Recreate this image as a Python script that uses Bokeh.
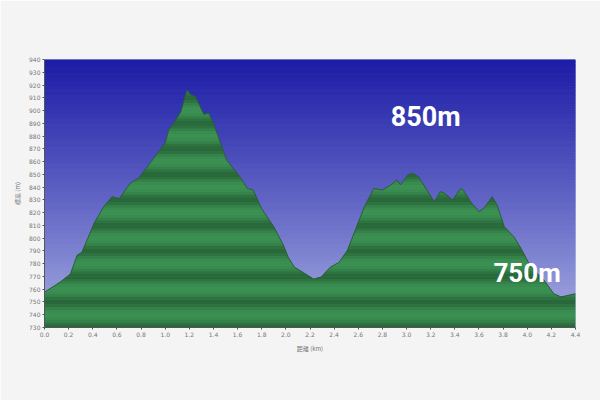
import numpy as np
from bokeh.plotting import figure
from bokeh.models import FixedTicker, NumeralTickFormatter, Range1d, Label
from bokeh.embed import file_html
from bokeh.resources import INLINE

# distance (km) and elevation (m)
dist = [0.0, 0.13, 0.215, 0.27, 0.31, 0.41, 0.49, 0.56, 0.62, 0.71, 0.78, 0.905, 1.0, 1.03, 1.07,
        1.13, 1.18, 1.21, 1.25, 1.32, 1.36, 1.40, 1.51, 1.62, 1.68, 1.73, 1.80, 1.90, 1.98, 2.02,
        2.07, 2.12, 2.23, 2.29, 2.37, 2.44, 2.51, 2.58, 2.65, 2.73, 2.80, 2.87, 2.92, 2.95, 3.01,
        3.05, 3.10, 3.16, 3.23, 3.28, 3.32, 3.38, 3.45, 3.47, 3.53, 3.60, 3.64, 3.71, 3.75, 3.81,
        3.89, 3.95, 4.03, 4.14, 4.22, 4.28, 4.33, 4.40]
elev = [757.7, 765.6, 772, 786.6, 789, 811.5, 824.6, 832.5, 831, 843, 847, 862.6, 874.5, 885, 890,
        899, 916, 912.5, 911, 897, 898, 890, 861, 848, 839, 837.7, 823, 809, 794.5, 785,
        777.4, 774.5, 768, 769.5, 777.4, 781, 790.5, 807.5, 824.6, 839, 837.7, 841.7, 845.6, 841.7, 849.5,
        851, 848, 839, 828.6, 836.5, 835, 830, 839, 837.7, 828.6, 820.8, 823.3, 832.5, 826, 809,
        801, 791.8, 777.4, 767, 756.5, 754, 755, 756.5]

x_ticks = [0.0, 0.2, 0.4, 0.6, 0.8, 1.0, 1.2, 1.4, 1.6, 1.8, 2.0, 2.2, 2.4, 2.6, 2.8, 3.0, 3.2,
           3.4, 3.6, 3.8, 4.0, 4.2, 4.4]
y_ticks = list(range(730, 941, 10))
annotations = [("850m", 2.87, 895, "27px"), ("750m", 3.72, 773, "26px")]

X_MIN, X_MAX, Y_MIN, Y_MAX = 0.0, 4.4, 730, 940

p = figure(width=600, height=400, output_backend="svg", toolbar_location=None,
           x_range=Range1d(X_MIN, X_MAX), y_range=Range1d(Y_MIN, Y_MAX),
           min_border_left=44, min_border_right=25, min_border_top=59, min_border_bottom=73,
           background_fill_color="#f4f4f4", border_fill_color="#f4f4f4")
p.outline_line_color = None
p.grid.visible = False


def mix(c1, c2, t):
    r = [int(round(a + (b - a) * t)) for a, b in zip(c1, c2)]
    return "#%02x%02x%02x" % tuple(r)


def band_top(x, y, lo, hi):
    """Exact clip of the piecewise-linear profile into [lo, hi] (adds crossing vertices)."""
    rx, ry = [x[0]], [y[0]]
    for i in range(len(x) - 1):
        x0, y0, x1, y1 = x[i], y[i], x[i + 1], y[i + 1]
        cuts = []
        for L in (lo, hi):
            if (y0 - L) * (y1 - L) < 0:
                t = (L - y0) / (y1 - y0)
                cuts.append((t, x0 + t * (x1 - x0), L))
        for _, cx, cy in sorted(cuts):
            rx.append(cx)
            ry.append(cy)
        rx.append(x1)
        ry.append(y1)
    return np.array(rx), np.clip(np.array(ry), lo, hi)


# sky gradient
step = 2
bottoms = np.arange(Y_MIN, Y_MAX, step)
sky_top = (0x1c, 0x1c, 0xa6)
sky_bot = (0xab, 0xb2, 0xe4)
sky_cols = [mix(sky_bot, sky_top, ((b + step / 2 - Y_MIN) / (Y_MAX - Y_MIN)) ** 0.9) for b in bottoms]
p.quad(left=X_MIN, right=X_MAX, bottom=bottoms, top=bottoms + step,
       fill_color=sky_cols, line_color=sky_cols, line_width=1)

# base green area
xs = np.array(dist, dtype=float)
ys = np.array(elev, dtype=float)
p.varea(x=xs, y1=Y_MIN, y2=ys, fill_color="#36874c")

# striped green bands
light = (0x3b, 0x90, 0x52)
dark = (0x28, 0x66, 0x39)
for b in np.arange(Y_MIN, max(elev), step):
    yc = b + step / 2
    f = ((1 + np.cos(2 * np.pi * (yc - 750) / 20)) / 2) ** 1.5
    col = mix(light, dark, f)
    bx, by = band_top(xs, ys, b, b + step)
    p.varea(x=bx, y1=b, y2=by, fill_color=col)

p.line(xs, ys, line_color="#2a5a36", line_width=0.9)

for txt, ax, ay, fs in annotations:
    p.add_layout(Label(x=ax, y=ay, text=txt, text_color="white", text_font="Roboto",
                       text_font_style="bold", text_font_size=fs, text_baseline="middle"))

p.xaxis.ticker = FixedTicker(ticks=x_ticks)
p.yaxis.ticker = FixedTicker(ticks=y_ticks)
p.xaxis.formatter = NumeralTickFormatter(format="0.0")
p.xaxis.minor_tick_line_color = None
p.yaxis.minor_tick_line_color = None
for ax in (p.xaxis[0], p.yaxis[0]):
    ax.major_label_text_font_size = "6px"
    ax.major_label_text_color = "#777777"
    ax.major_label_text_font = "DejaVu Sans"
    ax.axis_line_color = "#555555"
    ax.major_tick_line_color = "#555555"
    ax.major_tick_out = 2
    ax.major_tick_in = 0
    ax.major_label_standoff = 2
    ax.axis_label_text_font_size = "6px"
    ax.axis_label_text_color = "#777777"
    ax.axis_label_text_font = "Noto Sans CJK JP"
    ax.axis_label_text_font_style = "normal"
    ax.axis_label_standoff = 4
p.xaxis.axis_label = "距離 (km)"
p.yaxis.axis_label = "標高 (m)"

open("out.html", "w").write(file_html(p, INLINE))
